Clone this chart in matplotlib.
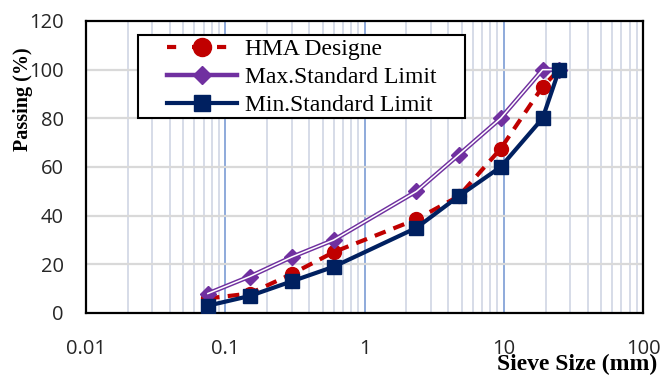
import matplotlib
matplotlib.use("Agg")
import matplotlib.pyplot as plt
from matplotlib.lines import Line2D
from matplotlib.patches import Rectangle
from matplotlib.ticker import LogLocator, NullFormatter, FixedLocator, FixedFormatter

# sieve sizes (mm) and percent passing
sieve = [0.075, 0.15, 0.3, 0.6, 2.36, 4.75, 9.5, 19, 25]
hma = [6, 8, 16, 25, 38.5, 48, 67.5, 93, 100]
max_limit = [8, 15, 23, 30, 50, 65, 80, 100, 100]
min_limit = [3, 7, 13, 19, 35, 48, 60, 80, 100]

x_ticks = [0.01, 0.1, 1, 10, 100]
x_labels = ["0.01", "0.1", "1", "10", "100"]
y_ticks = [0, 20, 40, 60, 80, 100, 120]

RED = "#c00000"
PURPLE = "#7030a0"
NAVY = "#002060"

W, H = 660, 375
fig = plt.figure(figsize=(6.6, 3.75), dpi=100)
ax = fig.add_axes([86 / W, 1 - 313 / H, (643 - 86) / W, (313 - 21) / H])
ax.set_xscale("log")
ax.set_xlim(0.01, 100)
ax.set_ylim(0, 120)

# grid: light minor lines, bluish decade lines, grey horizontal lines
for dec in [0.01, 0.1, 1, 10]:
    for k in range(2, 10):
        ax.axvline(dec * k, color="#d6dce8", lw=1.4, zorder=0)
for v in [0.1, 1, 10]:
    ax.axvline(v, color="#8eaadb", lw=1.4, zorder=0)
for v in y_ticks[1:-1]:
    ax.axhline(v, color="#d9d9d9", lw=1.6, zorder=0)

ax.plot(sieve, hma, color=RED, lw=3, ls=(0, (2.8, 2)), marker="o", ms=10, zorder=3)
ax.plot(sieve, max_limit, color=PURPLE, lw=3.2, marker="D", ms=8.5, zorder=4)
ax.plot(sieve, max_limit, color="white", lw=1.1, zorder=4)
ax.plot(sieve, min_limit, color=NAVY, lw=3, marker="s", ms=10.5, zorder=5)

ax.xaxis.set_major_locator(FixedLocator(x_ticks))
ax.xaxis.set_major_formatter(FixedFormatter(x_labels))
ax.xaxis.set_minor_locator(LogLocator(subs=range(2, 10)))
ax.xaxis.set_minor_formatter(NullFormatter())
ax.set_yticks(y_ticks)
ax.tick_params(which="both", length=0, labelsize=14.5)
ax.tick_params(axis="y", pad=16)
ax.tick_params(axis="x", pad=19)
for lab in ax.get_xticklabels() + ax.get_yticklabels():
    lab.set_family("Open Sans")
    lab.set_color("#262626")

for s in ax.spines.values():
    s.set_linewidth(1.6)
    s.set_color("black")

fig.text(23 / W, 1 - 99 / H, "Passing (%)", family="Liberation Serif",
         fontweight="bold", fontsize=14.5, rotation=90, ha="center", va="center")
fig.text(657 / W, 1 - 364 / H, "Sieve Size (mm)", family="Liberation Serif",
         fontweight="bold", fontsize=17, ha="right", va="center")

# legend box drawn separately so the inner padding can differ per side
fig.patches.append(Rectangle((138 / W, 1 - 118 / H), (465 - 138) / W, (118 - 35) / H,
                             transform=fig.transFigure, facecolor="white",
                             edgecolor="black", lw=1.5, zorder=10))
handles = [
    Line2D([], [], color=RED, lw=3, ls=(0, (2.2, 3.8)), marker="o", ms=13),
    Line2D([], [], color=PURPLE, lw=3.2, marker="D", ms=9),
    Line2D([], [], color=NAVY, lw=3, marker="s", ms=11),
]
leg = fig.legend(handles, ["HMA Designe", "Max.Standard Limit", "Min.Standard Limit"],
                 loc="upper left", bbox_to_anchor=(167 / W, 1 - 38.5 / H),
                 prop={"family": "Liberation Serif", "size": 17}, frameon=False,
                 borderpad=0, labelspacing=0.27, handlelength=2.95,
                 handletextpad=0.34, borderaxespad=0)
leg.set_zorder(11)

fig.savefig("out.png", dpi=100)
